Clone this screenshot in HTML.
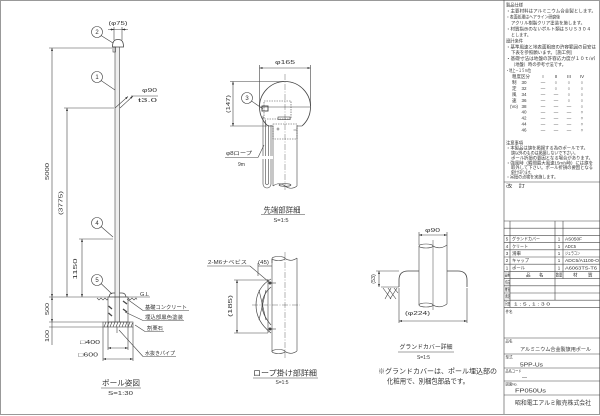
<!DOCTYPE html>
<html><head><meta charset="utf-8"><style>
html,body{margin:0;padding:0;background:#fff;}
svg{display:block;}
text{font-family:"Liberation Sans","Noto Sans CJK JP",sans-serif;fill:#333;}
</style></head><body>
<svg width="600" height="416" viewBox="0 0 600 416" xmlns="http://www.w3.org/2000/svg">
<defs>
<marker id="ar" markerUnits="userSpaceOnUse" viewBox="0 0 6 4" refX="6" refY="2" markerWidth="3" markerHeight="2" orient="auto-start-reverse"><path d="M0,0L6,2L0,4z" fill="#333"/></marker>
</defs>
<rect x="0.5" y="0.5" width="599" height="414" fill="none" stroke="#999" stroke-width="1"/>

<!-- ============ LEFT POLE DRAWING ============ -->
<rect x="115" y="47" width="4.5" height="275" fill="#eee"/>
<g stroke="#444" stroke-width="0.6" fill="none">
<line x1="115" y1="47" x2="115" y2="322"/>
<line x1="119.5" y1="47" x2="119.5" y2="322"/>
<path d="M112.5,47 C112.5,41 114.5,39.5 118,39.5 C121.5,39.5 123.5,41 123.5,47 Z" stroke-width="0.8"/>
<rect x="113" y="47" width="2.5" height="5"/>
<line x1="114" y1="27" x2="114" y2="40"/><line x1="122" y1="27" x2="122" y2="40"/>
<line x1="108" y1="29.5" x2="128" y2="29.5"/>
<line x1="110" y1="29.5" x2="114" y2="29.5" marker-end="url(#ar)"/>
<line x1="126" y1="29.5" x2="122" y2="29.5" marker-end="url(#ar)"/>
<circle cx="97" cy="32" r="5.5"/><line x1="101" y1="35.5" x2="113" y2="43"/>
<circle cx="97" cy="77" r="5.5"/><line x1="101" y1="80.5" x2="115" y2="90"/>
<line x1="131" y1="96" x2="158" y2="96"/>
<line x1="115" y1="108" x2="128" y2="96.5" marker-end="url(#ar)"/>
<line x1="120" y1="108" x2="133" y2="96" marker-end="url(#ar)"/>
<!-- 5000 -->
<line x1="49" y1="48" x2="112" y2="48"/>
<line x1="52" y1="48" x2="52" y2="297" marker-start="url(#ar)" marker-end="url(#ar)"/>
<!-- 3775 -->
<line x1="64" y1="108" x2="114" y2="108"/>
<line x1="67" y1="108" x2="67" y2="297" marker-start="url(#ar)" marker-end="url(#ar)"/>
<!-- 1150 -->
<line x1="79" y1="239" x2="113" y2="239"/>
<line x1="82" y1="239" x2="82" y2="297" marker-start="url(#ar)" marker-end="url(#ar)"/>
<circle cx="97" cy="223" r="5.5"/><line x1="101" y1="226.5" x2="113" y2="237"/>
<circle cx="97" cy="280" r="5.5"/><line x1="101" y1="283.5" x2="112" y2="294"/>
<!-- GL -->
<line x1="49" y1="297" x2="150" y2="297"/>
<path d="M109,297 Q109.5,293 113,293 L115,293 M119.5,293 L122,293 Q125.5,293 126,297" stroke-width="0.8"/>
<path d="M97,298 l2,2 l2,-2 l2,2 l2,-2 l2,2 l1,-1.5 M128,298 l2,2 l2,-2 l2,2 l2,-2 l1,1.5"/>
<!-- foundation -->
<rect x="108" y="297" width="20" height="25"/>
<path d="M108.5,306 L112,309 M108.5,313 L112,316 M123,301 L127,304 M123,309 L127,312" stroke-width="1.3"/>
<rect x="103" y="322" width="30" height="5"/>
<path d="M104,327 l2,-5 M107,327 l2,-5 M110,327 l2,-5 M113,327 l2,-5 M116,327 l2,-5 M119,327 l2,-5 M122,327 l2,-5 M125,327 l2,-5 M128,327 l2,-5 M131,327 l1.5,-4"/>
<line x1="117" y1="327" x2="117" y2="333"/>
<!-- 500 / 100 -->
<line x1="49" y1="322" x2="103" y2="322"/><line x1="49" y1="327" x2="103" y2="327"/>
<line x1="52" y1="297" x2="52" y2="322" marker-start="url(#ar)" marker-end="url(#ar)"/>
<line x1="52" y1="322" x2="52" y2="345"/>
<!-- 400 / 600 -->
<line x1="108" y1="322" x2="108" y2="350"/><line x1="128" y1="322" x2="128" y2="350"/>
<line x1="108" y1="348" x2="128" y2="348" marker-start="url(#ar)" marker-end="url(#ar)"/>
<line x1="103" y1="327" x2="103" y2="361"/><line x1="133" y1="327" x2="133" y2="361"/>
<line x1="103" y1="359" x2="133" y2="359" marker-start="url(#ar)" marker-end="url(#ar)"/>
<!-- labels -->
<line x1="143" y1="310.5" x2="189" y2="310.5"/><line x1="143" y1="310.5" x2="127" y2="299"/>
<line x1="143" y1="320.5" x2="184" y2="320.5"/><line x1="143" y1="320.5" x2="125" y2="312"/>
<line x1="145" y1="331.5" x2="164" y2="331.5"/><line x1="145" y1="331.5" x2="135" y2="325"/>
<line x1="143" y1="356.5" x2="176" y2="356.5"/><line x1="143" y1="356.5" x2="119" y2="330"/>
<line x1="101" y1="388" x2="141" y2="388"/>
</g>
<g>
<text x="118" y="24.8" font-size="5" text-anchor="middle" textLength="19" lengthAdjust="spacingAndGlyphs">(φ75)</text>
<text x="97" y="34.2" font-size="6" text-anchor="middle">2</text>
<text x="97" y="79.2" font-size="6" text-anchor="middle">1</text>
<text x="97" y="225.2" font-size="6" text-anchor="middle">4</text>
<text x="97" y="282.2" font-size="6" text-anchor="middle">5</text>
<text x="142" y="91.8" font-size="5" textLength="15" lengthAdjust="spacingAndGlyphs">φ90</text>
<text x="138" y="101.8" font-size="5" textLength="19" lengthAdjust="spacingAndGlyphs">t3.0</text>
<text transform="translate(49,171.5) rotate(-90)" font-size="5.5" text-anchor="middle" textLength="17" lengthAdjust="spacingAndGlyphs">5000</text>
<text transform="translate(62.5,203) rotate(-90)" font-size="5.5" text-anchor="middle" textLength="24" lengthAdjust="spacingAndGlyphs">(3775)</text>
<text transform="translate(77,269) rotate(-90)" font-size="5.5" text-anchor="middle" textLength="21" lengthAdjust="spacingAndGlyphs">1150</text>
<text transform="translate(49,309) rotate(-90)" font-size="5.5" text-anchor="middle" textLength="12" lengthAdjust="spacingAndGlyphs">500</text>
<text transform="translate(49,336) rotate(-90)" font-size="5.5" text-anchor="middle" textLength="12" lengthAdjust="spacingAndGlyphs">100</text>
<text x="140" y="295.8" font-size="5" textLength="9" lengthAdjust="spacingAndGlyphs">G.L</text>
<text x="145" y="309" font-size="5.3" textLength="42" lengthAdjust="spacingAndGlyphs">基礎コンクリート</text>
<text x="145" y="319" font-size="5.3" textLength="38" lengthAdjust="spacingAndGlyphs">埋込部黒色塗装</text>
<text x="147" y="330" font-size="5.3" textLength="16" lengthAdjust="spacingAndGlyphs">割栗石</text>
<text x="145" y="355" font-size="5.3" textLength="30" lengthAdjust="spacingAndGlyphs">水抜きパイプ</text>
<text x="80" y="344" font-size="5.5" textLength="20" lengthAdjust="spacingAndGlyphs">□400</text>
<text x="78" y="356.5" font-size="5.5" textLength="20" lengthAdjust="spacingAndGlyphs">□600</text>
<text x="121" y="385.7" font-size="7.5" text-anchor="middle" textLength="38" lengthAdjust="spacingAndGlyphs">ポール姿図</text>
<text x="120.5" y="395" font-size="5.5" text-anchor="middle" textLength="25" lengthAdjust="spacingAndGlyphs">S=1:30</text>
</g>

<!-- ============ TOP DETAIL ============ -->
<g stroke="#444" stroke-width="0.6" fill="none">
<path d="M268,126 A25.5,25.5 0 1 1 302,126" stroke-width="0.8"/>
<line x1="259.5" y1="107" x2="310.5" y2="107"/>
<line x1="268" y1="126" x2="273" y2="126"/><line x1="297" y1="126" x2="302" y2="126"/>
<line x1="273" y1="126" x2="273" y2="186"/><line x1="297" y1="126" x2="297" y2="186"/>
<path d="M273,186 C277,183 281,183 285,186 C289,189 293,189 297,186"/>
<ellipse cx="285" cy="185" rx="6" ry="1.3"/>
<rect x="264" y="101" width="27" height="18" stroke-dasharray="1.5,1"/>
<rect x="273" y="124" width="24" height="15" stroke-dasharray="1.5,1"/>
<rect x="278" y="117" width="12" height="2.5"/>
<path d="M276.5,129 h3 M278,127.5 v3 M293.5,130 h3"/>
<line x1="285" y1="74" x2="285" y2="191" stroke-dasharray="6,1.5,1,1.5" stroke-width="0.4"/>
<path d="M263,116 L263,184 A4,4 0 0 0 271,184 L271,125"/>
<path d="M265.5,120 L265.5,183 A1.5,1.5 0 0 0 268.5,183 L268.5,125"/>
<rect x="262" y="106" width="6" height="5" stroke-width="0.9"/>
<line x1="259.5" y1="65" x2="259.5" y2="106"/><line x1="310.5" y1="65" x2="310.5" y2="106"/>
<line x1="259.5" y1="68" x2="310.5" y2="68" marker-start="url(#ar)" marker-end="url(#ar)"/>
<line x1="230" y1="81.5" x2="284" y2="81.5"/><line x1="230" y1="126" x2="267" y2="126"/>
<line x1="233" y1="81.5" x2="233" y2="126" marker-start="url(#ar)" marker-end="url(#ar)"/>
<circle cx="247" cy="98" r="5.5"/><line x1="251.5" y1="101" x2="263" y2="109"/>
<line x1="225" y1="157.5" x2="258" y2="157.5"/><line x1="258" y1="157.5" x2="264" y2="145"/>
<line x1="261" y1="214.5" x2="305" y2="214.5"/>
</g>
<rect x="262" y="156" width="11" height="3" fill="#fff"/>
<g>
<text x="285" y="64" font-size="5.5" text-anchor="middle" textLength="20" lengthAdjust="spacingAndGlyphs">φ165</text>
<text transform="translate(230,104) rotate(-90)" font-size="5.5" text-anchor="middle" textLength="18" lengthAdjust="spacingAndGlyphs">(147)</text>
<text x="247" y="100.2" font-size="6" text-anchor="middle">3</text>
<text x="226" y="155" font-size="5.3" textLength="26" lengthAdjust="spacingAndGlyphs">φ8ロープ</text>
<text x="238" y="166" font-size="5.3" textLength="7" lengthAdjust="spacingAndGlyphs">9m</text>
<text x="282" y="212.7" font-size="7.5" text-anchor="middle" textLength="37" lengthAdjust="spacingAndGlyphs">先端部詳細</text>
<text x="281" y="222" font-size="5.5" text-anchor="middle" textLength="15" lengthAdjust="spacingAndGlyphs">S=1:5</text>
</g>

<!-- ============ ROPE HOOK DETAIL ============ -->
<g stroke="#444" stroke-width="0.6" fill="none">
<line x1="272" y1="259" x2="272" y2="352"/><line x1="297" y1="258" x2="297" y2="351"/>
<ellipse cx="278.5" cy="258.5" rx="6.5" ry="2"/>
<path d="M285,258.5 C289,261 293,261 297,258"/>
<ellipse cx="278.5" cy="351.5" rx="6.5" ry="2"/>
<path d="M285,351.5 C289,354 293,354 297,351"/>
<line x1="285" y1="252" x2="285" y2="358" stroke-dasharray="6,1.5,1,1.5" stroke-width="0.4"/>
<line x1="252" y1="305" x2="300" y2="305" stroke-dasharray="6,1.5,1,1.5" stroke-width="0.4"/>
<path d="M271,279 C262,284 256,293 256,305 C256,317 262,326 271,333" stroke-width="0.7"/>
<path d="M271,287 C265,292 262,299 262,305 C262,311 265,318 271,325" stroke-width="0.7"/>
<line x1="268" y1="279" x2="268" y2="333"/>
<line x1="259" y1="290" x2="266" y2="320"/><line x1="259" y1="320" x2="266" y2="290"/>
<circle cx="270" cy="283" r="1.2" fill="#444"/><line x1="271" y1="283" x2="276" y2="283"/>
<circle cx="270" cy="329" r="1.2" fill="#444"/><line x1="271" y1="329" x2="276" y2="329"/>
<line x1="207" y1="266" x2="250" y2="266"/><line x1="250" y1="266" x2="269" y2="282"/>
<line x1="258" y1="263" x2="258" y2="276"/><line x1="272" y1="263" x2="272" y2="259"/>
<line x1="258" y1="266" x2="272" y2="266"/>
<line x1="234" y1="280" x2="268" y2="280"/><line x1="234" y1="333" x2="268" y2="333"/>
<line x1="237" y1="280" x2="237" y2="333" marker-start="url(#ar)" marker-end="url(#ar)"/>
<line x1="253" y1="378" x2="318" y2="378"/>
</g>
<g>
<text x="208" y="264" font-size="5.3" textLength="39" lengthAdjust="spacingAndGlyphs">2-M6ナベビス</text>
<text x="258" y="263.8" font-size="5" textLength="11" lengthAdjust="spacingAndGlyphs">(45)</text>
<text transform="translate(232,306) rotate(-90)" font-size="5.5" text-anchor="middle" textLength="22" lengthAdjust="spacingAndGlyphs">(185)</text>
<text x="285" y="375.7" font-size="7.5" text-anchor="middle" textLength="64" lengthAdjust="spacingAndGlyphs">ロープ掛け部詳細</text>
<text x="282" y="384" font-size="5.5" text-anchor="middle" textLength="13" lengthAdjust="spacingAndGlyphs">S=1:5</text>
</g>

<!-- ============ GROUND COVER DETAIL ============ -->
<g stroke="#444" stroke-width="0.6" fill="none">
<line x1="419" y1="246" x2="419" y2="305"/><line x1="447" y1="245" x2="447" y2="304"/>
<ellipse cx="426" cy="246" rx="7" ry="2"/>
<path d="M433,246 C437,248.5 442,248.5 447,245"/>
<ellipse cx="426" cy="305" rx="7" ry="2"/>
<path d="M433,305 C437,307.5 442,307.5 447,304"/>
<line x1="433" y1="240" x2="433" y2="310" stroke-width="0.5"/>
<path d="M399,287 L399,280 Q399,271 408,271 L419,271" stroke-width="0.8"/>
<path d="M447,271 L458,271 Q467,271 467,280 L467,287" stroke-width="0.8"/>
<line x1="381" y1="287" x2="399" y2="287"/>
<path d="M383,288 L391,299 M388,288 L396,299 M391,288 L385,299 M397,288 L390,299 M394,288 L398,293"/>
<line x1="376" y1="271" x2="399" y2="271"/>
<line x1="379" y1="271" x2="379" y2="287" marker-start="url(#ar)" marker-end="url(#ar)"/>
<line x1="419" y1="232" x2="419" y2="245"/><line x1="447" y1="232" x2="447" y2="245"/>
<line x1="419" y1="235" x2="447" y2="235" marker-start="url(#ar)" marker-end="url(#ar)"/>
<line x1="399" y1="288" x2="399" y2="323"/><line x1="467" y1="288" x2="467" y2="323"/>
<line x1="399" y1="321" x2="467" y2="321" marker-start="url(#ar)" marker-end="url(#ar)"/>
<line x1="398" y1="352" x2="454" y2="352"/>
</g>
<g>
<text x="425" y="231.8" font-size="5" textLength="15" lengthAdjust="spacingAndGlyphs">φ90</text>
<text transform="translate(375,279) rotate(-90)" font-size="5" text-anchor="middle" textLength="9.5" lengthAdjust="spacingAndGlyphs">(53)</text>
<text x="405" y="315" font-size="5.5" textLength="25" lengthAdjust="spacingAndGlyphs">(φ224)</text>
<text x="426" y="349.2" font-size="6" text-anchor="middle" textLength="53" lengthAdjust="spacingAndGlyphs">グランドカバー詳細</text>
<text x="423.5" y="359" font-size="5.5" text-anchor="middle" textLength="13" lengthAdjust="spacingAndGlyphs">S=1:5</text>
<text x="378" y="373.4" font-size="6.8" textLength="119" lengthAdjust="spacingAndGlyphs">※グランドカバーは、ポール埋込部の</text>
<text x="387" y="383.5" font-size="6.8" textLength="82" lengthAdjust="spacingAndGlyphs">化粧用で、別梱包部品です。</text>
</g>

<!-- ============ RIGHT PANEL ============ -->
<g stroke="#444" stroke-width="0.6" fill="none">
<line x1="504" y1="0" x2="504" y2="414"/>
<line x1="504" y1="182" x2="600" y2="182"/>
<path d="M504,221 H600 M504,228.2 H600 M504,235.4 H600 M504,242.6 H600 M504,249.8 H600 M504,257 H600 M504,264.2 H600 M504,271.4 H600 M504,278.6 H600 M504,285.8 H600 M504,293 H600 M504,300.2 H600 M504,307.4 H600"/>
<line x1="510" y1="221" x2="510" y2="307.4"/>
<line x1="555" y1="221" x2="555" y2="300.2"/>
<line x1="563" y1="221" x2="563" y2="278.6"/>
<path d="M504,338 H600 M504,354 H600 M504,368 H600 M504,381 H600 M504,395 H600"/>
</g>
<g font-size="4.5">
<text x="506" y="6.6" textLength="17" lengthAdjust="spacingAndGlyphs">製品仕様</text>
<text x="506" y="12.6" textLength="90" lengthAdjust="spacingAndGlyphs">・主要材料はアルミニウム合金製とします。</text>
<text x="506" y="18.5" textLength="54" lengthAdjust="spacingAndGlyphs">・表面処理はヘアライン研磨後</text>
<text x="511" y="24.5" textLength="74" lengthAdjust="spacingAndGlyphs">アクリル樹脂クリア塗装を施します。</text>
<text x="506" y="30.4" textLength="85" lengthAdjust="spacingAndGlyphs">・材質指示のないボルト類はＳＵＳ３０４</text>
<text x="511" y="36.4" textLength="20" lengthAdjust="spacingAndGlyphs">とします。</text>
<text x="506" y="42.3" textLength="17" lengthAdjust="spacingAndGlyphs">設計条件</text>
<text x="506" y="48.3" textLength="90" lengthAdjust="spacingAndGlyphs">・基準風速と地表面粗度の許容範囲の目安は</text>
<text x="511" y="54.2" textLength="64" lengthAdjust="spacingAndGlyphs">下表を参照願います。［施工例］</text>
<text x="506" y="60.2" textLength="89" lengthAdjust="spacingAndGlyphs">・基礎寸法は地盤の許容応力度が１０ｔ/㎡</text>
<text x="511" y="66.1" textLength="55" lengthAdjust="spacingAndGlyphs">（地盤）時の参考寸法です。</text>
<text x="506" y="72.1" textLength="25" lengthAdjust="spacingAndGlyphs">・地上－１５ｍ位</text>
<text x="512" y="78" textLength="18" lengthAdjust="spacingAndGlyphs">粗度区分</text>
<g text-anchor="middle">
<text x="543" y="78">I</text><text x="556" y="78">II</text><text x="569" y="78">III</text><text x="582" y="78">IV</text>
<text x="543" y="84">—</text><text x="556" y="84">○</text><text x="569" y="84">○</text><text x="582" y="84">○</text>
<text x="543" y="89.9">—</text><text x="556" y="89.9">○</text><text x="569" y="89.9">○</text><text x="582" y="89.9">○</text>
<text x="543" y="95.9">—</text><text x="556" y="95.9">—</text><text x="569" y="95.9">○</text><text x="582" y="95.9">○</text>
<text x="543" y="101.8">—</text><text x="556" y="101.8">—</text><text x="569" y="101.8">○</text><text x="582" y="101.8">○</text>
<text x="543" y="107.8">—</text><text x="556" y="107.8">—</text><text x="569" y="107.8">—</text><text x="582" y="107.8">○</text>
<text x="543" y="113.7">—</text><text x="556" y="113.7">—</text><text x="569" y="113.7">—</text><text x="582" y="113.7">○</text>
<text x="543" y="119.7">—</text><text x="556" y="119.7">—</text><text x="569" y="119.7">—</text><text x="582" y="119.7">○</text>
<text x="543" y="125.6">—</text><text x="556" y="125.6">—</text><text x="569" y="125.6">—</text><text x="582" y="125.6">○</text>
<text x="543" y="131.6">—</text><text x="556" y="131.6">—</text><text x="569" y="131.6">—</text><text x="582" y="131.6">○</text>
<text x="524" y="84">30</text><text x="524" y="89.9">32</text><text x="524" y="95.9">34</text><text x="524" y="101.8">36</text><text x="524" y="107.8">38</text>
<text x="524" y="113.7">40</text><text x="524" y="119.7">42</text><text x="524" y="125.6">44</text><text x="524" y="131.6">46</text>
</g>
<text x="512" y="84">制</text><text x="512" y="89.9">定</text><text x="512" y="95.9">風</text><text x="512" y="101.8">速</text>
<text x="510" y="107.8" textLength="8" lengthAdjust="spacingAndGlyphs">(Vo)</text>
<text x="506" y="144.3" textLength="17" lengthAdjust="spacingAndGlyphs">注意事項</text>
<text x="506" y="149.3" textLength="82" lengthAdjust="spacingAndGlyphs">・本製品は旗を掲揚する為のポールです。</text>
<text x="511" y="154.3" textLength="67" lengthAdjust="spacingAndGlyphs">旗以外のものは掲揚しないで下さい。</text>
<text x="511" y="159.3" textLength="82" lengthAdjust="spacingAndGlyphs">ポール折損の要因となる場合があります。</text>
<text x="506" y="164.3" textLength="87" lengthAdjust="spacingAndGlyphs">・強風時（瞬間最大風速15m/s時）には旗を</text>
<text x="511" y="169" textLength="82" lengthAdjust="spacingAndGlyphs">取外して下さい。ポール折損の要因となる</text>
<text x="511" y="173.8" textLength="22" lengthAdjust="spacingAndGlyphs">場合があります。</text>
<text x="506" y="178.5" textLength="52" lengthAdjust="spacingAndGlyphs">・吊紐の点検を実施します。</text>
<text x="506" y="187.6" textLength="19" lengthAdjust="spacingAndGlyphs">改　訂</text>
<!-- parts table -->
<g text-anchor="middle">
<text x="507" y="240.6">5</text><text x="507" y="247.8">4</text><text x="507" y="255">3</text><text x="507" y="262.2">2</text><text x="507" y="269.4">1</text>
<text x="559" y="240.6">1</text><text x="559" y="247.8">1</text><text x="559" y="255">1</text><text x="559" y="262.2">1</text><text x="559" y="269.4">1</text>
</g>
<text x="512" y="240.6" textLength="28" lengthAdjust="spacingAndGlyphs">グランドカバー</text>
<text x="512" y="247.8" textLength="16" lengthAdjust="spacingAndGlyphs">クリート</text>
<text x="512" y="255" textLength="9" lengthAdjust="spacingAndGlyphs">滑車</text>
<text x="512" y="262.2" textLength="17" lengthAdjust="spacingAndGlyphs">キャップ</text>
<text x="512" y="269.4" textLength="13" lengthAdjust="spacingAndGlyphs">ポール</text>
<text x="565" y="240.6" textLength="17" lengthAdjust="spacingAndGlyphs">AS050F</text>
<text x="565" y="247.8" textLength="11" lengthAdjust="spacingAndGlyphs">ADC5</text>
<text x="565" y="255" textLength="15" lengthAdjust="spacingAndGlyphs">ジュラコン</text>
<text x="565" y="262.2" textLength="34" lengthAdjust="spacingAndGlyphs">ADC5/A1100-O</text>
<text x="565" y="269.4" textLength="32" lengthAdjust="spacingAndGlyphs">A6063TS-T6</text>
<text x="504.8" y="276.6" textLength="5" lengthAdjust="spacingAndGlyphs">品番</text>
<text x="526" y="276.6">品</text><text x="539" y="276.6">名</text>
<text x="555.8" y="276.6" textLength="6.5" lengthAdjust="spacingAndGlyphs">数量</text>
<text x="573" y="276.6">材</text><text x="588" y="276.6">質</text>
<text x="505" y="283.8" textLength="5" lengthAdjust="spacingAndGlyphs">作成</text>
<text x="505" y="291" textLength="5" lengthAdjust="spacingAndGlyphs">審査</text>
<text x="505" y="298.2" textLength="5" lengthAdjust="spacingAndGlyphs">承認</text>
<text x="505" y="305.4" textLength="5" lengthAdjust="spacingAndGlyphs">尺度</text>
<text x="514" y="305.4" textLength="36" lengthAdjust="spacingAndGlyphs">1 : 5 ,  1 : 3 0</text>
<text x="505.5" y="313" font-size="4" textLength="7" lengthAdjust="spacingAndGlyphs">件名</text>
<text x="505.5" y="342.5" font-size="4" textLength="7" lengthAdjust="spacingAndGlyphs">品名</text>
<text x="520" y="350.8" font-size="5" textLength="71" lengthAdjust="spacingAndGlyphs">アルミニウム合金製旗用ポール</text>
<text x="505.5" y="358.5" font-size="4" textLength="7" lengthAdjust="spacingAndGlyphs">型式</text>
<text x="520" y="366.3" font-size="5" textLength="23" lengthAdjust="spacingAndGlyphs">5PP-Us</text>
<text x="505.5" y="372.5" font-size="4" textLength="16" lengthAdjust="spacingAndGlyphs">品名コード</text>
<text x="522" y="379" font-size="5">—</text>
<text x="505.5" y="385.5" font-size="4" textLength="12" lengthAdjust="spacingAndGlyphs">図面No.</text>
<text x="515" y="392.6" font-size="5" textLength="31" lengthAdjust="spacingAndGlyphs">FP050Us</text>
<text x="515" y="405.2" font-size="6" textLength="76" lengthAdjust="spacingAndGlyphs">昭和電工アルミ販売株式会社</text>
</g>
</svg>
</body></html>
